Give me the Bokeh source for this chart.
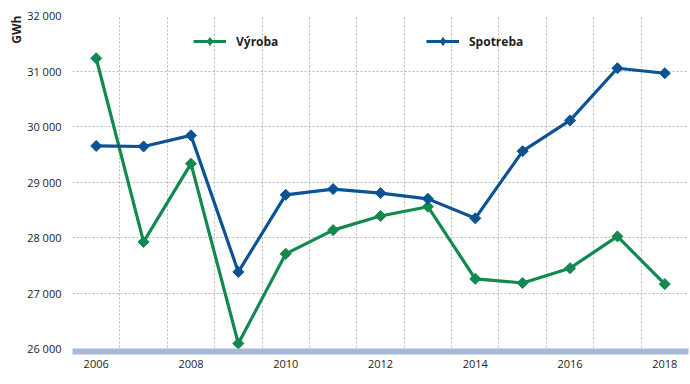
import numpy as np
from bokeh.plotting import figure
from bokeh.models import (ColumnDataSource, FixedTicker, Legend, LegendItem, Title, Range1d)
from bokeh.embed import file_html
from bokeh.resources import INLINE

years = [2006, 2007, 2008, 2009, 2010, 2011, 2012, 2013, 2014, 2015, 2016, 2017, 2018]
vyroba = [31230, 27920, 29330, 26090, 27705, 28133, 28387, 28555, 27255, 27180, 27447, 28020, 27160]
spotreba = [29650, 29640, 29840, 27380, 28769, 28873, 28800, 28696, 28345, 29556, 30110, 31050, 30960]

x_tick_years = [2006, 2008, 2010, 2012, 2014, 2016, 2018]
y_ticks = [26000, 27000, 28000, 29000, 30000, 31000, 32000]
y_tick_labels = ["26 000", "27 000", "28 000", "29 000", "30 000", "31 000", "32 000"]
series_names = ["Výroba", "Spotreba"]
unit_label = "GWh"

GREEN = "#128a4f"
BLUE = "#0b5394"
FONT = "Open Sans"

src = ColumnDataSource(dict(year=years, vyroba=vyroba, spotreba=spotreba))
# legend-only source (a single undrawn NaN point)
legend_src = ColumnDataSource(dict(year=[np.nan], vyroba=[np.nan], spotreba=[np.nan]))

p = figure(width=690, height=384, output_backend="svg", toolbar_location=None,
           x_range=Range1d(2005.5, 2018.5), y_range=Range1d(25946, 32000),
           min_border_left=72, min_border_right=2, min_border_top=15, min_border_bottom=33)
p.outline_line_color = None
p.background_fill_color = "white"
p.border_fill_color = "white"

# grids
p.xgrid.ticker = FixedTicker(ticks=[y + 0.5 for y in years[:-1]])
p.ygrid.ticker = FixedTicker(ticks=y_ticks[1:])
for g in (p.xgrid, p.ygrid):
    g.grid_line_color = "#b8b8b8"
    g.grid_line_dash = "2 2"
    g.grid_line_width = 1

# axes
p.xaxis.ticker = FixedTicker(ticks=x_tick_years)
p.xaxis.axis_line_color = "#a6b9d7"
p.xaxis.axis_line_width = 6
p.xaxis.major_tick_line_color = None
p.xaxis.minor_tick_line_color = None
p.xaxis.major_tick_out = 0
p.xaxis.major_tick_in = 0
p.xaxis.major_label_standoff = 8
p.xaxis.major_label_text_font = FONT
p.xaxis.major_label_text_font_size = "11px"
p.xaxis.major_label_text_color = "#222222"

p.yaxis.ticker = FixedTicker(ticks=y_ticks)
p.yaxis.major_label_overrides = {t: l for t, l in zip(y_ticks, y_tick_labels)}
p.yaxis.axis_line_color = None
p.yaxis.major_tick_line_color = None
p.yaxis.minor_tick_line_color = None
p.yaxis.major_tick_out = 0
p.yaxis.major_tick_in = 0
p.yaxis.major_label_standoff = 11
p.yaxis.major_label_text_font = FONT
p.yaxis.major_label_text_font_size = "11px"
p.yaxis.major_label_text_color = "#222222"

p.add_layout(Title(text=unit_label, align="right", text_font=FONT, text_font_size="12px",
                   text_font_style="bold", text_color="#222222", standoff=0), "left")

# series
l1 = p.line("year", "vyroba", source=src, line_color=GREEN, line_width=3.2)
s1 = p.scatter("year", "vyroba", source=src, marker="square", angle=np.pi / 4, size=7.8,
               fill_color=GREEN, line_color=GREEN)
l2 = p.line("year", "spotreba", source=src, line_color=BLUE, line_width=3.2)
s2 = p.scatter("year", "spotreba", source=src, marker="square", angle=np.pi / 4, size=7.8,
               fill_color=BLUE, line_color=BLUE)
d1 = p.scatter("year", "vyroba", source=legend_src, marker="diamond", size=11,
               fill_color=GREEN, line_color=GREEN)
d2 = p.scatter("year", "spotreba", source=legend_src, marker="diamond", size=11,
               fill_color=BLUE, line_color=BLUE)

def make_legend(name, rends, loc):
    lg = Legend(items=[LegendItem(label=name, renderers=rends)], location=loc,
                orientation="horizontal", glyph_width=33, glyph_height=20,
                label_standoff=10, padding=0, margin=0, border_line_color=None,
                background_fill_alpha=0, label_text_font=FONT, label_text_font_size="12px",
                label_text_font_style="bold", label_text_color="#222222")
    return lg

p.add_layout(make_legend(series_names[0], [l1, d1], (121, 300)), "center")
p.add_layout(make_legend(series_names[1], [l2, d2], (354, 300)), "center")

open("out.html", "w").write(file_html(p, INLINE))
